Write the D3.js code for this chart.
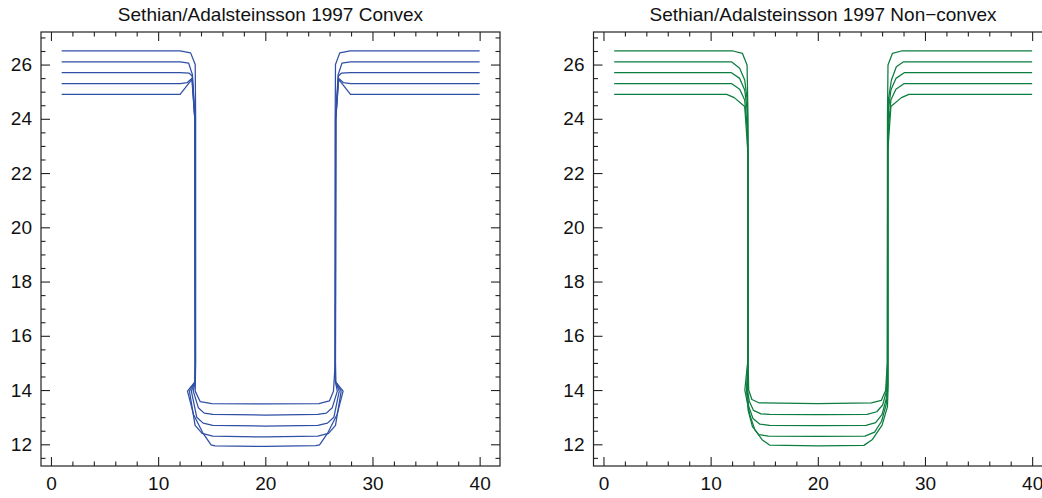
<!DOCTYPE html>
<html>
<head>
<meta charset="utf-8">
<script src="https://cdn.jsdelivr.net/npm/d3@7"></script>
<style>
  html, body { margin: 0; padding: 0; background: #fff; }
  svg { display: block; }
  text { font-family: "Liberation Sans", Arial, Helvetica, sans-serif; fill: #111; }
</style>
</head>
<body>
<svg id="chart" width="1042" height="498"></svg>
<script>
// ---------------- data ----------------
const titles = ["Sethian/Adalsteinsson 1997 Convex", "Sethian/Adalsteinsson 1997 Non\u2212convex"];
const xMajorTicks = [0, 10, 20, 30, 40];
const xMinorTicks = [2, 4, 6, 8, 12, 14, 16, 18, 22, 24, 26, 28, 32, 34, 36, 38];
const yMajorTicks = [12, 14, 16, 18, 20, 22, 24, 26];
const yMinorTicks = [11.5, 12.5, 13, 13.5, 14.5, 15, 15.5, 16.5, 17, 17.5, 18.5, 19, 19.5, 20.5, 21, 21.5, 22.5, 23, 23.5, 24.5, 25, 25.5, 26.5, 27];
const xDomain = [-0.93, 41.9];
const yDomain = [11.2, 27.2];

// Convex profiles (5 successive fronts)
const convexCurves = [
  [[1,26.5],[12.05,26.5],[13.03,26.43],[13.46,26.0],[13.5,24.0],[13.5,15.0],[13.46,13.96],[13.93,13.57],[15.0,13.5],[20,13.49],[25.0,13.5],[25.98,13.6],[26.36,13.96],[26.52,15.0],[26.52,24.0],[26.55,26.0],[26.95,26.43],[27.92,26.5],[40,26.5]],
  [[1,26.1],[12.05,26.1],[12.85,26.05],[13.2,25.63],[13.45,24.0],[13.48,15.0],[13.46,14.3],[13.28,13.96],[13.75,13.35],[14.3,13.15],[15.1,13.1],[20,13.08],[24.9,13.1],[25.7,13.15],[26.25,13.35],[26.72,13.96],[26.54,14.3],[26.52,15.0],[26.55,24.0],[26.8,25.63],[27.15,26.05],[27.95,26.1],[40,26.1]],
  [[1,25.7],[12.05,25.7],[12.9,25.68],[13.18,25.58],[13.43,24.0],[13.47,15.0],[13.45,14.3],[13.1,13.96],[13.6,13.0],[14.2,12.78],[15.1,12.7],[20,12.67],[24.9,12.7],[25.8,12.78],[26.4,13.0],[26.9,13.96],[26.55,14.3],[26.53,15.0],[26.57,24.0],[26.82,25.58],[27.1,25.68],[27.95,25.7],[40,25.7]],
  [[1,25.3],[12.05,25.3],[12.7,25.33],[13.17,25.5],[13.42,24.0],[13.46,15.0],[13.44,14.3],[12.92,13.96],[13.45,12.7],[14.1,12.4],[15.1,12.3],[20,12.27],[24.9,12.3],[25.9,12.4],[26.55,12.7],[27.08,13.96],[26.56,14.3],[26.54,15.0],[26.58,24.0],[26.83,25.5],[27.3,25.33],[27.95,25.3],[40,25.3]],
  [[1,24.9],[12.05,24.9],[13.15,25.45],[13.42,24.0],[13.45,15.0],[13.43,14.3],[12.74,13.96],[13.3,13.1],[14.2,12.4],[14.94,11.98],[15.3,11.94],[20,11.92],[24.7,11.95],[25.06,11.98],[25.8,12.4],[26.7,13.1],[27.26,13.96],[26.57,14.3],[26.55,15.0],[26.58,24.0],[26.85,25.45],[27.95,24.9],[40,24.9]]
];

// Non-convex profiles (5 successive fronts)
const nonConvexCurves = [
  [[1,26.5],[12.09,26.5],[12.97,26.41],[13.4,25.98],[13.49,24.0],[13.5,15.0],[13.55,14.0],[13.85,13.65],[14.5,13.53],[20,13.5],[25.0,13.53],[25.93,13.62],[26.33,13.98],[26.48,15.0],[26.5,24.0],[26.55,25.98],[26.96,26.41],[27.8,26.5],[40,26.5]],
  [[1,26.1],[11.94,26.1],[12.71,25.86],[13.18,25.43],[13.41,24.69],[13.47,23.0],[13.48,15.0],[13.45,14.0],[13.6,13.6],[14.0,13.25],[14.7,13.12],[15.5,13.1],[20,13.09],[24.6,13.1],[25.5,13.2],[26.05,13.45],[26.4,13.95],[26.5,15.0],[26.52,23.0],[26.58,24.69],[26.87,25.43],[27.33,25.92],[28.0,26.1],[40,26.1]],
  [[1,25.7],[11.94,25.7],[12.71,25.49],[13.18,25.06],[13.41,24.32],[13.47,22.8],[13.47,15.0],[13.4,14.0],[13.55,13.4],[13.95,12.95],[14.6,12.74],[15.5,12.7],[20,12.69],[24.5,12.7],[25.4,12.8],[26.0,13.1],[26.4,13.7],[26.52,14.2],[26.52,15.0],[26.53,22.8],[26.59,24.32],[26.82,25.06],[27.29,25.49],[28.06,25.7],[40,25.7]],
  [[1,25.3],[11.94,25.3],[12.71,25.09],[13.18,24.69],[13.43,23.59],[13.46,22.5],[13.46,15.0],[13.35,14.0],[13.5,13.25],[13.9,12.65],[14.5,12.36],[15.4,12.3],[20,12.29],[24.4,12.3],[25.3,12.45],[25.95,12.85],[26.4,13.5],[26.53,14.1],[26.54,15.0],[26.54,22.5],[26.57,23.59],[26.82,24.69],[27.29,25.09],[28.06,25.3],[40,25.3]],
  [[1,24.9],[11.5,24.9],[12.2,24.78],[13.18,24.45],[13.46,22.85],[13.45,15.0],[13.19,14.0],[13.66,13.08],[14.13,12.53],[14.8,12.17],[15.5,11.97],[20,11.94],[24.3,11.96],[25.1,12.18],[26.0,12.71],[26.5,13.39],[26.55,14.0],[26.55,15.0],[26.54,22.85],[26.82,24.45],[27.8,24.78],[28.5,24.9],[40,24.9]]
];

const seriesSets = [convexCurves, nonConvexCurves];
const seriesColors = ["#2f4fa5", "#0b7d3e"];

// ---------------- layout ----------------
const panels = [
  { left: 41, right: 500 },
  { left: 593.5, right: 1052.5 }
];
const plotTop = 32, plotBottom = 466;
const majorLen = 9, minorLen = 4.5;
const svg = d3.select("#chart");

panels.forEach((p, idx) => {
  const x = d3.scaleLinear().domain(xDomain).range([p.left, p.right]);
  const y = d3.scaleLinear().domain(yDomain).range([plotBottom, plotTop]);
  const g = svg.append("g");

  // data lines
  const line = d3.line().x(d => x(d[0])).y(d => y(d[1]));
  g.selectAll("path.curve")
    .data(seriesSets[idx])
    .join("path")
    .attr("class", "curve")
    .attr("d", line)
    .attr("fill", "none")
    .attr("stroke", seriesColors[idx])
    .attr("stroke-width", 1.25)
    .attr("stroke-linejoin", "round");

  const styleAxis = sel => {
    sel.select(".domain").remove();
    sel.selectAll(".tick line").attr("stroke", "#222").attr("stroke-width", 1.1);
    sel.selectAll(".tick text").style("font-size", "19px").attr("fill", "#111")
      .style("font-family", "'Liberation Sans', Arial, Helvetica, sans-serif");
  };

  // bottom axis
  g.append("g").attr("transform", `translate(0,${plotBottom})`)
    .call(d3.axisBottom(x).tickValues(xMajorTicks).tickSize(-majorLen).tickPadding(11).tickFormat(d3.format("d")))
    .call(styleAxis);
  g.append("g").attr("transform", `translate(0,${plotBottom})`)
    .call(d3.axisBottom(x).tickValues(xMinorTicks).tickSize(-minorLen).tickFormat(""))
    .call(styleAxis);
  // top axis
  g.append("g").attr("transform", `translate(0,${plotTop})`)
    .call(d3.axisTop(x).tickValues(xMajorTicks).tickSize(-majorLen).tickFormat(""))
    .call(styleAxis);
  g.append("g").attr("transform", `translate(0,${plotTop})`)
    .call(d3.axisTop(x).tickValues(xMinorTicks).tickSize(-minorLen).tickFormat(""))
    .call(styleAxis);
  // left axis
  g.append("g").attr("transform", `translate(${p.left},0)`)
    .call(d3.axisLeft(y).tickValues(yMajorTicks).tickSize(-majorLen).tickPadding(9).tickFormat(d3.format("d")))
    .call(styleAxis);
  g.append("g").attr("transform", `translate(${p.left},0)`)
    .call(d3.axisLeft(y).tickValues(yMinorTicks).tickSize(-minorLen).tickFormat(""))
    .call(styleAxis);
  // right axis
  g.append("g").attr("transform", `translate(${p.right},0)`)
    .call(d3.axisRight(y).tickValues(yMajorTicks).tickSize(-majorLen).tickFormat(""))
    .call(styleAxis);
  g.append("g").attr("transform", `translate(${p.right},0)`)
    .call(d3.axisRight(y).tickValues(yMinorTicks).tickSize(-minorLen).tickFormat(""))
    .call(styleAxis);

  // frame
  g.append("rect")
    .attr("x", p.left).attr("y", plotTop)
    .attr("width", p.right - p.left).attr("height", plotBottom - plotTop)
    .attr("fill", "none").attr("stroke", "#222").attr("stroke-width", 1.2);

  // title
  g.append("text")
    .attr("x", (p.left + p.right) / 2).attr("y", 21)
    .attr("text-anchor", "middle")
    .style("font-size", "19px")
    .text(titles[idx]);
});
</script>
</body>
</html>
